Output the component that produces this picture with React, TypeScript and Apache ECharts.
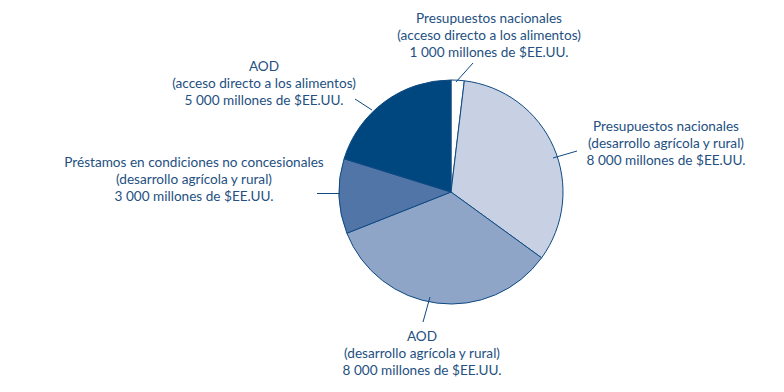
import React, { useEffect, useRef } from "react";
import * as echarts from "echarts";

// Category labels (clockwise from 12 o'clock)
const titles = [
  "Presupuestos nacionales",
  "Presupuestos nacionales",
  "AOD",
  "Préstamos en condiciones no concesionales",
  "AOD",
];
const purposes = [
  "(acceso directo a los alimentos)",
  "(desarrollo agrícola y rural)",
  "(desarrollo agrícola y rural)",
  "(desarrollo agrícola y rural)",
  "(acceso directo a los alimentos)",
];
const amounts = ["1 000", "8 000", "8 000", "3 000", "5 000"];
// Slice shares as drawn in the reference (percent of the circle)
const shares = [1.9, 33.1, 34.0, 10.8, 20.2];

const colors = ["#ffffff", "#c8d1e4", "#8fa5c8", "#5275a8", "#00467f"];
const TEXT = "#24507f";
const LINE = "#0e4a82";

// label centres (px) and leader lines
const labelPos = [
  [489, 35],
  [666, 143],
  [422, 353],
  [194, 179],
  [264, 83],
];
const leaders = [
  [473, 63, 456, 82],
  [553, 158, 577, 151],
  [430, 297, 423, 322],
  [317, 193.5, 340, 193.5],
  [355, 99, 372, 110],
];

export default function App() {
  const ref = useRef<HTMLDivElement>(null);
  useEffect(() => {
    if (!ref.current) return;
    const chart = echarts.init(ref.current, null, { renderer: "svg" });
    chart.setOption({
      animation: false,
      backgroundColor: "#ffffff",
      textStyle: { fontFamily: "Lato" },
      graphic: leaders.map((l) => ({
        type: "line",
        z: 100,
        shape: { x1: l[0], y1: l[1], x2: l[2], y2: l[3] },
        style: { stroke: LINE, lineWidth: 1 },
      })),
      series: [
        {
          type: "pie",
          center: [451, 192],
          radius: [0, 112],
          startAngle: 90,
          clockwise: true,
          avoidLabelOverlap: false,
          itemStyle: { borderColor: LINE, borderWidth: 1 },
          emphasis: { disabled: true },
          labelLine: { show: false },
          label: {
            show: true,
            position: "outside",
            color: TEXT,
            fontFamily: "Lato",
            fontSize: 13.6,
            lineHeight: 17,
            align: "center",
            formatter: (p: any) =>
              `${titles[p.dataIndex]}\n${purposes[p.dataIndex]}\n${amounts[p.dataIndex]} millones de $EE.UU.`,
          },
          labelLayout: (p: any) => ({
            x: labelPos[p.dataIndex][0],
            y: labelPos[p.dataIndex][1],
            align: "center",
            verticalAlign: "middle",
          }),
          data: shares.map((v, i) => ({
            value: v,
            name: titles[i] + " " + purposes[i],
            itemStyle: { color: colors[i] },
          })),
        },
      ],
    });
    return () => chart.dispose();
  }, []);
  return (
    <div
      ref={ref}
      style={{ position: "fixed", left: 0, top: 0, width: 784, height: 392 }}
    />
  );
}
